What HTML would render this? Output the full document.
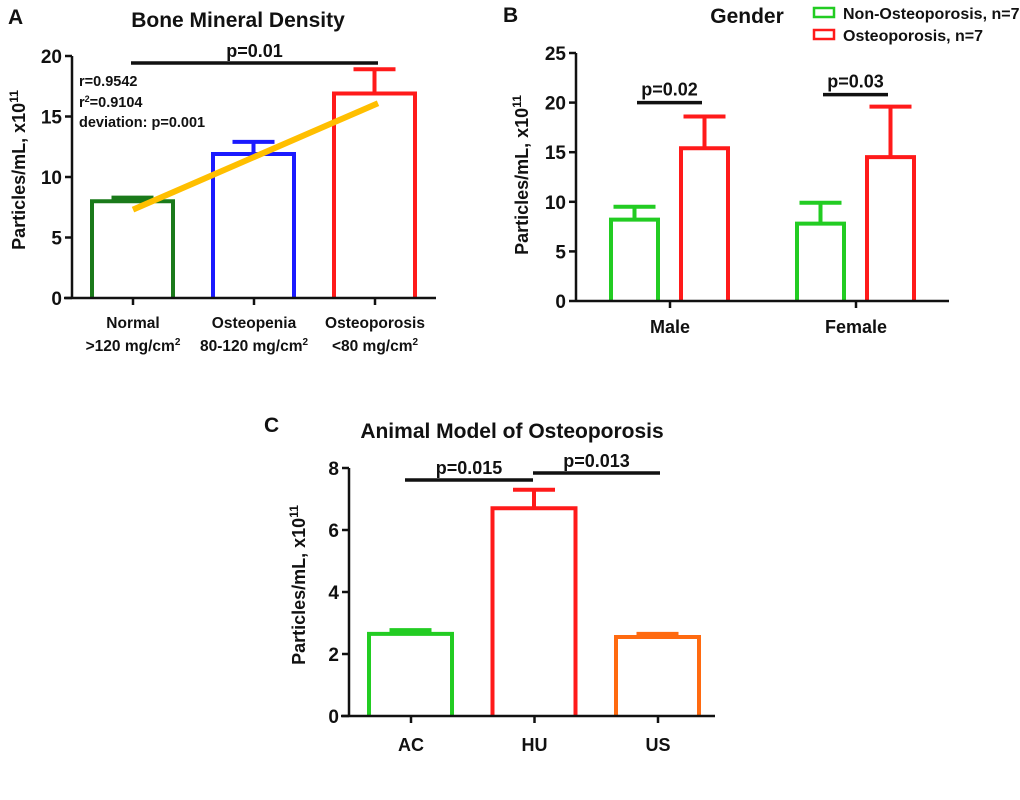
<!DOCTYPE html>
<html><head><meta charset="utf-8">
<style>
html,body{margin:0;padding:0;background:#fff;}
svg{display:block;font-family:"Liberation Sans",sans-serif;font-weight:bold;}
</style></head>
<body>
<svg id="fig" width="1020" height="800" viewBox="0 0 1020 800"></svg>
<script>
// Panel A data
const aCats = [["Normal", ">120 mg/cm", "2"], ["Osteopenia", "80-120 mg/cm", "2"], ["Osteoporosis", "<80 mg/cm", "2"]];
const aVals = [8.0, 11.9, 16.9];
const aErr = [0.3, 1.0, 2.0];
const aColors = ["#1a7a1a", "#1a1aff", "#ff1a1a"];
const aTicks = [0, 5, 10, 15, 20];
const aFit = [7.3, 16.1];
// Panel B data
const bCats = ["Male", "Female"];
const bNon = [8.2, 7.8];
const bNonErr = [1.3, 2.1];
const bOst = [15.4, 14.5];
const bOstErr = [3.2, 5.1];
const bTicks = [0, 5, 10, 15, 20, 25];
const bPvals = ["p=0.02", "p=0.03"];
const bPy = [20.0, 20.8];
// Panel C data
const cCats = ["AC", "HU", "US"];
const cVals = [2.65, 6.7, 2.55];
const cErr = [0.12, 0.6, 0.1];
const cColors = ["#22cc22", "#ff1a1a", "#ff6a10"];
const cTicks = [0, 2, 4, 6, 8];

const NS = "http://www.w3.org/2000/svg";
const svg = document.getElementById("fig");
function mk(tag, attrs, parent, text){
  const e = document.createElementNS(NS, tag);
  for (const k in attrs) e.setAttribute(k, attrs[k]);
  if (text !== undefined) e.textContent = text;
  (parent || svg).appendChild(e);
  return e;
}
function line(x1,y1,x2,y2,stroke,w,g){return mk("line",{x1,y1,x2,y2,stroke,"stroke-width":w},g);}

function axisY(g, x, yScale, ticks, fs){
  line(x, yScale(ticks[ticks.length-1]), x, yScale(0)+1, "#111", 2.5, g);
  ticks.forEach(t=>{
    line(x-7, yScale(t), x, yScale(t), "#111", 2.5, g);
    const tx = mk("text",{x:x-10,y:yScale(t)+7,"text-anchor":"end","font-size":fs,fill:"#111"},g,String(t));
    
    
  });
}
function yTitle(g, cx, cy){
  const t = mk("text",{x:cx,y:cy,"text-anchor":"middle","font-size":18,fill:"#111",transform:`rotate(-90 ${cx} ${cy})`},g);
  
  
  mk("tspan",{},t,"Particles/mL, x10");
  mk("tspan",{dy:-7,"font-size":12},t,"11");
}
function bar(g, x0, x1, yTop, y0, err, color, name){
  const p = mk("path",{d:`M${x0},${y0} V${yTop} H${x1} V${y0}`,fill:"none",stroke:color,"stroke-width":4},g);
  
  
  const cx=(x0+x1)/2;
  const e1 = line(cx, yTop, cx, err, color, 4, g);
  
  
  line(cx-21, err, cx+21, err, color, 4, g);
}
function sig(g, x1, x2, y, text, ty){
  const l = line(x1,y,x2,y,"#111",3.5,g);
  
  
  const t = mk("text",{x:(x1+x2)/2,y:ty,"text-anchor":"middle","font-size":18,fill:"#111"},g,text);
  
  
}

// ---------- Panel A ----------
{
  const g = mk("g",{});
  
  
  const y = v => 298 - v*12.1;
  const xc = i => 133 + i*121;
  mk("text",{x:8,y:24,"font-size":21,fill:"#111"},g,"A");
  const ti = mk("text",{x:238,y:27,"text-anchor":"middle","font-size":21,fill:"#111"},g,"Bone Mineral Density");
  
  
  aVals.forEach((v,i)=>bar(g, xc(i)-41, xc(i)+40, y(v), 298, y(v+aErr[i]), aColors[i], 'bar-'+aCats[i][0].toLowerCase()));
  line(64, 298, 436, 298, "#111", 2.5, g);
  axisY(g, 72, y, aTicks, 19);
  aCats.forEach((c,i)=>{
    line(xc(i),298,xc(i),305,"#111",2.5,g);
    const t1 = mk("text",{x:xc(i),y:328,"text-anchor":"middle","font-size":15.5,fill:"#111"},g,c[0]);
    
    
    const t2 = mk("text",{x:xc(i),y:351,"text-anchor":"middle","font-size":15.5,fill:"#111"},g);
    mk("tspan",{},t2,c[1]); mk("tspan",{dy:-6,"font-size":10},t2,c[2]);
  });
  const fit = line(xc(0), y(aFit[0]), xc(2)+3, y(aFit[1]), "#ffbf00", 6, g);
  
  
  sig(g, 131, 378, 63, "p=0.01", 57);
  const st = mk("g",{"font-size":14.5,fill:"#111"},g);
  
  
  mk("text",{x:79,y:86},st,"r=0.9542");
  const r2 = mk("text",{x:79,y:107},st); mk("tspan",{},r2,"r"); mk("tspan",{dy:-5,"font-size":9},r2,"2"); mk("tspan",{dy:5},r2,"=0.9104");
  mk("text",{x:79,y:127},st,"deviation: p=0.001");
  yTitle(g, 25, 170);
}

// ---------- Panel B ----------
{
  const g = mk("g",{});
  
  
  const y = v => 301 - v*9.92;
  const xc = i => 670 + i*186;
  mk("text",{x:503,y:22,"font-size":21,fill:"#111"},g,"B");
  const ti = mk("text",{x:747,y:23,"text-anchor":"middle","font-size":21,fill:"#111"},g,"Gender");
  
  
  bCats.forEach((c,i)=>{
    bar(g, xc(i)-59, xc(i)-12, y(bNon[i]), 301, y(bNon[i]+bNonErr[i]), "#22cc22", 'bar-'+c.toLowerCase()+'-non-osteoporosis');
    bar(g, xc(i)+11, xc(i)+58, y(bOst[i]), 301, y(bOst[i]+bOstErr[i]), "#ff1a1a", 'bar-'+c.toLowerCase()+'-osteoporosis');
    line(xc(i),301,xc(i),308,"#111",2.5,g);
    const t = mk("text",{x:xc(i),y:333,"text-anchor":"middle","font-size":18,fill:"#111"},g,c);
    
    
    sig(g, xc(i)-33, xc(i)+32, y(bPy[i]), bPvals[i], y(bPy[i])-7);
  });
  line(576, 301, 949, 301, "#111", 2.5, g);
  axisY(g, 576, y, bTicks, 19);
  yTitle(g, 528, 175);
  const lg = mk("g",{"font-size":16,fill:"#111"},g);
  
  
  const e1 = mk("rect",{x:814,y:8,width:20,height:9,fill:"none",stroke:"#22cc22","stroke-width":2.5},lg);
  
  mk("text",{x:843,y:19},lg,"Non-Osteoporosis,  n=7");
  mk("rect",{x:814,y:30,width:20,height:9,fill:"none",stroke:"#ff1a1a","stroke-width":2.5},lg);
  mk("text",{x:843,y:41},lg,"Osteoporosis, n=7");
}

// ---------- Panel C ----------
{
  const g = mk("g",{});
  
  
  const y = v => 716 - v*31;
  const xc = i => 411 + i*123.5;
  mk("text",{x:264,y:432,"font-size":21,fill:"#111"},g,"C");
  const ti = mk("text",{x:512,y:438,"text-anchor":"middle","font-size":21,fill:"#111"},g,"Animal Model of Osteoporosis");
  
  
  cCats.forEach((c,i)=>{
    bar(g, xc(i)-42, xc(i)+41, y(cVals[i]), 716, y(cVals[i]+cErr[i]), cColors[i], 'bar-'+c.toLowerCase());
    line(xc(i),716,xc(i),723,"#111",2.5,g);
    const t = mk("text",{x:xc(i),y:751,"text-anchor":"middle","font-size":18,fill:"#111"},g,c);
    
    
  });
  line(341, 716, 715, 716, "#111", 2.5, g);
  axisY(g, 349, y, cTicks, 19);
  sig(g, 405, 533, 480, "p=0.015", 474);
  sig(g, 533, 660, 473, "p=0.013", 467);
  yTitle(g, 305, 585);
}
</script>
</body></html>
